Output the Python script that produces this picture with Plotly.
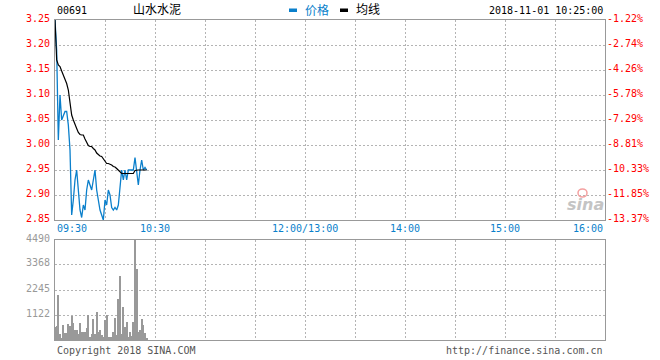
import plotly.graph_objects as go

# ---- data ----
minutes = list(range(56))  # trading minutes since 09:30
price = [3.25, 3.19, 3.01, 3.10, 3.05, 3.06, 3.067, 3.067, 3.04, 2.99,
         2.86, 2.89, 2.93, 2.95, 2.90, 2.87, 2.855, 2.88, 2.87, 2.91,
         2.93, 2.92, 2.91, 2.93, 2.95, 2.91, 2.89, 2.87, 2.86, 2.85,
         2.89, 2.88, 2.91, 2.90, 2.875, 2.87, 2.875, 2.87, 2.88, 2.925,
         2.95, 2.93, 2.95, 2.93, 2.95, 2.95, 2.95, 2.95, 2.975, 2.95,
         2.92, 2.95, 2.97, 2.95, 2.955, 2.95]
avg_price = [3.25, 3.17, 3.16, 3.157, 3.148, 3.14, 3.13, 3.123, 3.11, 3.08,
             3.06, 3.05, 3.04, 3.033, 3.025, 3.021, 3.02, 3.02, 3.012, 3.005,
             2.999, 2.997, 2.997, 2.993, 2.99, 2.984, 2.98, 2.978, 2.977, 2.973,
             2.968, 2.963, 2.963, 2.962, 2.96, 2.957, 2.956, 2.953, 2.95, 2.945,
             2.943, 2.943, 2.943, 2.943, 2.943, 2.943, 2.943, 2.943, 2.949, 2.95,
             2.95, 2.95, 2.95, 2.95, 2.95, 2.95]
volume = [600, 614, 2036, 284, 90, 690, 329, 314, 733, 614,
          1063, 778, 464, 464, 284, 778, 359, 359, 359, 554,
          1123, 150, 284, 958, 284, 1272, 374, 464, 240, 150,
          913, 1123, 150, 150, 150, 374, 1003, 240, 1856, 2889,
          284, 1497, 599, 823, 150, 374, 195, 823, 4490, 3204,
          374, 464, 958, 690, 329, 100]

price_ticks = [3.25, 3.20, 3.15, 3.10, 3.05, 3.00, 2.95, 2.90, 2.85]
pct_labels = ["-1.22%", "-2.74%", "-4.26%", "-5.78%", "-7.29%",
              "-8.81%", "-10.33%", "-11.85%", "-13.37%"]
vol_ticks = [1122, 2245, 3368, 4490]
time_ticks = [0, 60, 150, 210, 270, 330]
time_labels = ["09:30", "10:30", "12:00/13:00", "14:00", "15:00", "16:00"]
grid_minutes = list(range(0, 331, 30))

code = "00691"
name = "山水水泥"
stamp = "2018-11-01 10:25:00"

BLUE = "#0a7fcb"
RED = "#ff0000"
GRAY = "#999999"
GRID = "#b4b4b4"
FONT = "DejaVu Sans Mono, Noto Sans CJK SC"

fig = go.Figure()
fig.add_trace(go.Scatter(x=minutes, y=price, mode="lines", name="价格",
                         line=dict(color=BLUE, width=1.3), xaxis="x", yaxis="y"))
fig.add_trace(go.Scatter(x=minutes, y=avg_price, mode="lines", name="均线",
                         line=dict(color="black", width=1.2), xaxis="x", yaxis="y"))
fig.add_trace(go.Bar(x=minutes, y=volume, width=0.6, marker=dict(color=GRAY, line=dict(width=0)),
                     xaxis="x2", yaxis="y3", showlegend=False))

grid_common = dict(showgrid=True, gridcolor=GRID, griddash="2px,2px", gridwidth=1,
                   showline=True, linecolor=GRAY, linewidth=1, mirror=True,
                   zeroline=False, ticks="", showticklabels=False)

fig.update_layout(
    width=660, height=360,
    margin=dict(l=55, r=55, t=20, b=20),
    paper_bgcolor="white", plot_bgcolor="white",
    showlegend=False,
    bargap=0,
    font=dict(family=FONT, size=10),
    xaxis=dict(domain=[0, 1], range=[0, 330], anchor="y", tickvals=grid_minutes, **grid_common),
    yaxis=dict(domain=[0.375, 1], range=[2.85, 3.25], tickvals=price_ticks, **grid_common),
    xaxis2=dict(domain=[0, 1], range=[0, 330], anchor="y3", tickvals=grid_minutes, **grid_common),
    yaxis3=dict(domain=[0, 0.3125], range=[0, 4490], tickvals=vol_ticks, **grid_common),
)

def px_x(p):
    return (p - 55) / 550.0

def px_y(p):
    return (340 - p) / 320.0

ann = []
# price axis labels (left) and percentage labels (right)
for v, pct in zip(price_ticks, pct_labels):
    ann.append(dict(x=px_x(52), y=v, xref="paper", yref="y", text=f"{v:.2f}", showarrow=False,
                    xanchor="right", yanchor="middle", yshift=2,
                    font=dict(color=RED, size=10, family=FONT)))
    ann.append(dict(x=px_x(605), y=v, xref="paper", yref="y", text=pct, showarrow=False,
                    xanchor="left", yanchor="middle", yshift=2,
                    font=dict(color=RED, size=10, family=FONT)))
# volume axis labels
for v in vol_ticks:
    ann.append(dict(x=px_x(52), y=v, xref="paper", yref="y3", text=str(v), showarrow=False,
                    xanchor="right", yanchor="middle", yshift=2,
                    font=dict(color=GRAY, size=10, family=FONT)))
# time labels
for t, lab in zip(time_ticks, time_labels):
    anchor = "left" if t == 0 else ("right" if t == 330 else "center")
    ann.append(dict(x=t, y=px_y(228), xref="x", yref="paper", text=lab, showarrow=False,
                    xanchor=anchor, yanchor="middle", font=dict(color=BLUE, size=10, family=FONT)))

ann += [
    dict(x=0, y=px_y(10), xref="paper", yref="paper", text=code, showarrow=False,
         xanchor="left", yanchor="middle", font=dict(color="black", size=10, family=FONT)),
    dict(x=px_x(131), y=px_y(10), xref="paper", yref="paper", text=name, showarrow=False,
         xanchor="left", yanchor="middle", font=dict(color="black", size=12, family=FONT)),
    dict(x=px_x(303), y=px_y(10), xref="paper", yref="paper", text="价格", showarrow=False,
         xanchor="left", yanchor="middle", font=dict(color=BLUE, size=12, family=FONT)),
    dict(x=px_x(354), y=px_y(10), xref="paper", yref="paper", text="均线", showarrow=False,
         xanchor="left", yanchor="middle", font=dict(color="black", size=12, family=FONT)),
    dict(x=1, y=px_y(10), xref="paper", yref="paper", text=stamp, showarrow=False,
         xanchor="right", yanchor="middle", font=dict(color="black", size=10, family=FONT)),
    dict(x=0, y=px_y(350), xref="paper", yref="paper", text="Copyright 2018 SINA.COM",
         showarrow=False, xanchor="left", yanchor="middle",
         font=dict(color="#555555", size=10, family=FONT)),
    dict(x=1, y=px_y(350), xref="paper", yref="paper", text="http://finance.sina.com.cn",
         showarrow=False, xanchor="right", yanchor="middle",
         font=dict(color="#555555", size=10, family=FONT)),
    dict(x=px_x(585), y=px_y(204), xref="paper", yref="paper", text="<b><i>sina</i></b>",
         showarrow=False, xanchor="center", yanchor="middle",
         font=dict(color="#c4c4c4", size=16, family="DejaVu Sans")),
]
fig.update_layout(annotations=ann)

fig.update_layout(shapes=[
    dict(type="rect", xref="paper", yref="paper", x0=px_x(289), x1=px_x(297),
         y0=px_y(12), y1=px_y(8.5), fillcolor=BLUE, line=dict(width=0)),
    dict(type="rect", xref="paper", yref="paper", x0=px_x(340), x1=px_x(348),
         y0=px_y(12), y1=px_y(8.5), fillcolor="black", line=dict(width=0)),
    dict(type="circle", xref="paper", yref="paper", x0=px_x(578), x1=px_x(587),
         y0=px_y(197), y1=px_y(189), line=dict(color="#f4a0a0", width=1.5)),
])

fig.write_html("out.html", config={"displayModeBar": False},
               post_script="document.body.style.margin='0';")
